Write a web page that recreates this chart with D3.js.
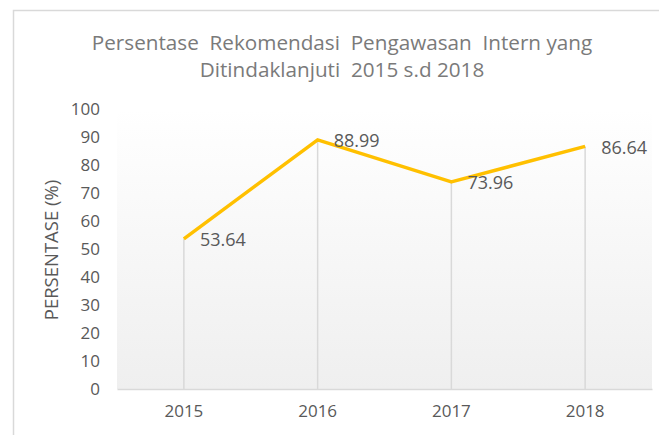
<!DOCTYPE html>
<html><head><meta charset="utf-8">
<script src="https://cdn.jsdelivr.net/npm/d3@7"></script>
<style>body{margin:0;background:#fff}svg{display:block}text{font-family:"Open Sans",sans-serif}</style>
</head><body><svg id="c" width="659" height="435"></svg>
<script>
const categories = ["2015", "2016", "2017", "2018"];
const values = [53.64, 88.99, 73.96, 86.64];
const valueLabels = ["53.64", "88.99", "73.96", "86.64"];
const yTicks = [0, 10, 20, 30, 40, 50, 60, 70, 80, 90, 100];
const titleLines = ["Persentase  Rekomendasi  Pengawasan  Intern yang", "Ditindaklanjuti  2015 s.d 2018"];
const yTitle = "PERSENTASE (%)";

const svg = d3.select("#c");
const pL = 117, pR = 652, pT = 109, pB = 389;

const defs = svg.append("defs");
const g = defs.append("linearGradient").attr("id","bg").attr("x1",0).attr("y1",0).attr("x2",0).attr("y2",1);
g.append("stop").attr("offset","0%").attr("stop-color","#ffffff");
g.append("stop").attr("offset","100%").attr("stop-color","#efefef");

svg.append("rect").attr("x",13.5).attr("y",10.5).attr("width",700).attr("height",500)
  .attr("fill","#fff").attr("stroke","#d9d9d9").attr("stroke-width",1.5);

const x = d3.scaleBand().domain(categories).range([pL, pR]);
const y = d3.scaleLinear().domain([0, 100]).range([pB, pT]);

svg.append("rect").attr("x",pL).attr("y",pT).attr("width",pR-pL).attr("height",pB-pT).attr("fill","url(#bg)");

// title
svg.append("g").selectAll("text").data(titleLines).join("text")
  .attr("x",342).attr("y",(d,i)=>50+i*27).attr("text-anchor","middle")
  .attr("font-size",20.7).attr("fill","#7a7a7a").style("white-space","pre").text(d=>d);

// y axis
const ya = svg.append("g").attr("transform",`translate(${pL},0)`)
  .call(d3.axisLeft(y).tickValues(yTicks).tickSize(0).tickPadding(17));
ya.select(".domain").remove();
ya.selectAll("text").attr("font-size",17).attr("fill","#595959").style("font-family","'Open Sans',sans-serif");

// x axis
const xa = svg.append("g").attr("transform",`translate(0,${pB})`)
  .call(d3.axisBottom(x).tickSize(0).tickPadding(16));
xa.select(".domain").attr("stroke","#d9d9d9").attr("stroke-width",1.5);
xa.selectAll("text").attr("font-size",17).attr("fill","#595959").style("font-family","'Open Sans',sans-serif");

svg.append("text").attr("transform",`translate(58,250) rotate(-90)`)
  .attr("text-anchor","middle").attr("font-size",18.5).attr("fill","#595959").text(yTitle);

const cx = d => x(d) + x.bandwidth()/2;
// drop lines
svg.append("g").selectAll("line").data(categories).join("line")
  .attr("x1",cx).attr("x2",cx).attr("y1",(d,i)=>y(values[i])).attr("y2",pB)
  .attr("stroke","#d9d9d9").attr("stroke-width",1.5);

const line = d3.line().x((d,i)=>cx(categories[i])).y(d=>y(d));
svg.append("path").datum(values).attr("d",line).attr("fill","none")
  .attr("stroke","#FFC000").attr("stroke-width",3.5).attr("stroke-linejoin","round");

svg.append("g").selectAll("text").data(values).join("text")
  .attr("x",(d,i)=>cx(categories[i])+16).attr("y",d=>y(d)+1).attr("dy","0.35em")
  .attr("font-size",18).attr("fill","#595959").text((d,i)=>valueLabels[i]);
</script></body></html>
